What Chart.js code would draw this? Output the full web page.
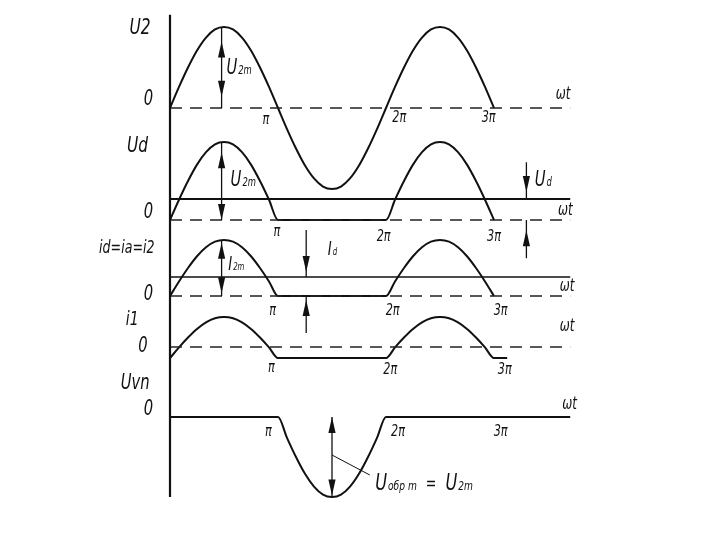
<!DOCTYPE html>
<html><head><meta charset="utf-8">
<script src="https://cdn.jsdelivr.net/npm/chart.js@4/dist/chart.umd.min.js"></script>
<style>html,body{margin:0;padding:0;background:#fff}canvas{display:block}</style>
</head><body>
<canvas id="c" width="720" height="540"></canvas>
<script>
// phase, degrees (180 = π)
const phase = [0,15,30,45,60,75,90,105,120,135,150,165,180,195,210,225,240,255,270,285,300,315,330,345,360,375,390,405,420,435,450,465,480,495,510,525,540];
const tickLabels = ['π','2π','3π'];
const axisEnd = 667;             // where the ωt lines stop
// U2 : secondary voltage (units of U2m)
const u2 = [0,0.26,0.5,0.71,0.87,0.97,1,0.97,0.87,0.71,0.5,0.26,0,-0.26,-0.5,-0.71,-0.87,-0.97,-1,-0.97,-0.87,-0.71,-0.5,-0.26,0,0.26,0.5,0.71,0.87,0.97,1,0.97,0.87,0.71,0.5,0.26,0];
// Ud : rectified voltage (units of U2m)
const ud = [0,0.26,0.5,0.71,0.87,0.97,1,0.97,0.87,0.71,0.5,0.26,0,0,0,0,0,0,0,0,0,0,0,0,0,0.26,0.5,0.71,0.87,0.97,1,0.97,0.87,0.71,0.5,0.26,0];
const udAvg = 0.27;
// id = ia = i2 (units of I2m)
const id = [0,0.26,0.5,0.71,0.87,0.97,1,0.97,0.87,0.71,0.5,0.26,0,0,0,0,0,0,0,0,0,0,0,0,0,0.26,0.5,0.71,0.87,0.97,1,0.97,0.87,0.71,0.5,0.26,0];
const idAvg = 0.34;
// i1 : primary current
const phaseI1 = [...phase, 562];
const i1 = [-0.27,-0.01,0.23,0.44,0.6,0.7,0.73,0.7,0.6,0.44,0.23,-0.01,-0.27,-0.27,-0.27,-0.27,-0.27,-0.27,-0.27,-0.27,-0.27,-0.27,-0.27,-0.27,-0.27,-0.01,0.23,0.44,0.6,0.7,0.73,0.7,0.6,0.44,0.23,-0.01,-0.27,-0.27];
// Uvn : reverse voltage on the diode
const phaseUvn = [...phase, 667];
const uvn = [0,0,0,0,0,0,0,0,0,0,0,0,0,-0.26,-0.5,-0.71,-0.87,-0.97,-1,-0.97,-0.87,-0.71,-0.5,-0.26,0,0,0,0,0,0,0,0,0,0,0,0,0,0];

const H = 540;
function panelAxis(basePx, unitPx){ return {type:'linear', display:false, min:(basePx-H)/unitPx, max:basePx/unitPx}; }
const pts = (xs, ys) => xs.map((x,i)=>({x, y:ys[i]}));
const flat = (v) => [{x:0,y:v},{x:axisEnd,y:v}];

const curve = (data, axis, w) => ({data, yAxisID:axis, borderColor:'#111', borderWidth:w||2, showLine:true, pointRadius:0, cubicInterpolationMode:'monotone', fill:false});
const dashed = (axis) => ({data:flat(0), yAxisID:axis, borderColor:'#222', borderWidth:1.6, borderDash:[12,8], showLine:true, pointRadius:0});
const solid = (v, axis, w) => ({data:flat(v), yAxisID:axis, borderColor:'#111', borderWidth:w, showLine:true, pointRadius:0});

const FONT = '"Liberation Sans Narrow","DejaVu Sans Condensed","Liberation Sans",sans-serif';
const SQUEEZE = 0.78;

const labels = [
  // panel 1
  {t:'U2', x:-50, a:'y1', v:0.99, s:22},
  {t:'0', x:-36, a:'y1', v:0.10, s:21},
  {t:tickLabels[0], x:160, a:'y1', v:-0.15, s:16},
  {t:tickLabels[1], x:382, a:'y1', v:-0.12, s:16},
  {t:tickLabels[2], x:531, a:'y1', v:-0.12, s:16},
  {t:'ωt', x:655, a:'y1', v:0.16, s:17},
  {t:'U', sub:'2m', x:94, a:'y1', v:0.49, s:21, al:'left'},
  // panel 2
  {t:'Ud', x:-54, a:'y2', v:0.94, s:22},
  {t:'0', x:-36, a:'y2', v:0.10, s:21},
  {t:tickLabels[0], x:178, a:'y2', v:-0.15, s:16},
  {t:tickLabels[1], x:356, a:'y2', v:-0.22, s:16},
  {t:tickLabels[2], x:540, a:'y2', v:-0.22, s:16},
  {t:'ωt', x:659, a:'y2', v:0.12, s:17},
  {t:'U', sub:'2m', x:101, a:'y2', v:0.51, s:21, al:'left'},
  {t:'U', sub:'d', x:608, a:'y2', v:0.51, s:21, al:'left'},
  // panel 3
  {t:'id=ia=i2', x:-72, a:'y3', v:0.86, s:18},
  {t:'0', x:-36, a:'y3', v:0.02, s:21},
  {t:'I', sub:'2m', x:97, a:'y3', v:0.55, s:19, al:'left'},
  {t:'I', sub:'d', x:263, a:'y3', v:0.82, s:19, al:'left'},
  {t:tickLabels[0], x:171, a:'y3', v:-0.27, s:16},
  {t:tickLabels[1], x:371, a:'y3', v:-0.27, s:16},
  {t:tickLabels[2], x:551, a:'y3', v:-0.27, s:16},
  {t:'ωt', x:662, a:'y3', v:0.16, s:17},
  // panel 4
  {t:'i1', x:-63, a:'y4', v:0.66, s:20},
  {t:'0', x:-45, a:'y4', v:0.0, s:21},
  {t:tickLabels[0], x:169, a:'y4', v:-0.51, s:16},
  {t:tickLabels[1], x:367, a:'y4', v:-0.56, s:16},
  {t:tickLabels[2], x:558, a:'y4', v:-0.56, s:16},
  {t:'ωt', x:662, a:'y4', v:0.51, s:17},
  // panel 5
  {t:'Uvn', x:-58, a:'y5', v:0.42, s:21},
  {t:'0', x:-36, a:'y5', v:0.09, s:21},
  {t:tickLabels[0], x:164, a:'y5', v:-0.19, s:16},
  {t:tickLabels[1], x:380, a:'y5', v:-0.19, s:16},
  {t:tickLabels[2], x:551, a:'y5', v:-0.19, s:16},
  {t:'ωt', x:666, a:'y5', v:0.15, s:17},
  {t:'U', sub:'обр m', x:342, a:'y5', v:-0.84, s:23, al:'left', tail:'  =  ', t2:'U', sub2:'2m'}
];

// arrows: x, axis, line from v1 to v2, heads [tipValue, dir] dir -1 = pointing up, +1 = down
const arrows = [
  {x:86, a:'y1', v1:1, v2:0, heads:[[0.82,-1],[0.14,1]]},
  {x:86, a:'y2', v1:1, v2:0, heads:[[0.87,-1],[0.0,1]]},
  {x:594, a:'y2', v1:0.74, v2:udAvg, heads:[[0.36,1]]},
  {x:594, a:'y2', v1:0, v2:-0.49, heads:[[-0.13,-1]]},
  {x:86, a:'y3', v1:1, v2:0, heads:[[0.95,-1],[0.05,1]]},
  {x:227, a:'y3', v1:1.18, v2:idAvg, heads:[[0.43,1]]},
  {x:227, a:'y3', v1:0, v2:-0.66, heads:[[-0.07,-1]]},
  {x:270, a:'y5', v1:0, v2:-1, heads:[[0,-1],[-0.98,1]]}
];

function squeezedText(ctx, txt, x, y, align){
  const w = ctx.measureText(txt).width * SQUEEZE;
  let x0 = x;
  if (align === 'center') x0 = x - w/2; else if (align === 'right') x0 = x - w;
  ctx.save(); ctx.translate(x0, y); ctx.scale(SQUEEZE, 1); ctx.textAlign = 'left'; ctx.fillText(txt, 0, 0); ctx.restore();
  return w;
}

const overlay = {
  id:'overlay',
  afterDatasetsDraw(chart){
    const ctx = chart.ctx, X = chart.scales.x;
    const px = v => X.getPixelForValue(v);
    const py = (a,v) => chart.scales[a].getPixelForValue(v);
    ctx.save();
    ctx.strokeStyle = '#111'; ctx.fillStyle = '#111';
    // vertical axis
    ctx.lineWidth = 2.2;
    ctx.beginPath(); ctx.moveTo(px(0), py('y1',1.15)); ctx.lineTo(px(0), py('y5',-1.0)); ctx.stroke();
    // arrows
    ctx.lineWidth = 1.3;
    arrows.forEach(ar => {
      const x = px(ar.x);
      ctx.beginPath(); ctx.moveTo(x, py(ar.a, ar.v1)); ctx.lineTo(x, py(ar.a, ar.v2)); ctx.stroke();
      ar.heads.forEach(([tv, dir]) => {
        const ty = py(ar.a, tv), len = 16, w = 3.6;
        ctx.beginPath(); ctx.moveTo(x, ty); ctx.lineTo(x - w, ty - dir*len); ctx.lineTo(x + w, ty - dir*len); ctx.closePath(); ctx.fill();
      });
    });
    // leader line for U обр m
    ctx.lineWidth = 1;
    ctx.beginPath(); ctx.moveTo(px(270), py('y5',-0.475)); ctx.lineTo(px(333), py('y5',-0.725)); ctx.stroke();
    // labels
    ctx.textBaseline = 'middle';
    labels.forEach(l => {
      let x = px(l.x); const y = py(l.a, l.v);
      const main = `italic ${l.s}px ${FONT}`, small = `italic ${Math.round(l.s*0.55)}px ${FONT}`;
      if (!l.sub) {
        ctx.font = main; squeezedText(ctx, l.t, x, y, l.al || 'center'); return;
      }
      const parts = [[l.t, main, 0], [l.sub, small, l.s*0.12]];
      if (l.tail) { parts.push([l.tail, `italic ${Math.round(l.s*0.8)}px ${FONT}`, 0]); parts.push([l.t2, main, 0]); parts.push([l.sub2, small, l.s*0.12]); }
      parts.forEach(([txt, f, dy]) => { ctx.font = f; x += squeezedText(ctx, txt, x, y + dy, 'left') + 1; });
    });
    ctx.restore();
  }
};

new Chart(document.getElementById('c'), {
  type:'scatter',
  data:{datasets:[
    dashed('y1'), curve(pts(phase,u2),'y1',2),
    dashed('y2'), solid(udAvg,'y2',2), curve(pts(phase,ud),'y2',2),
    dashed('y3'), solid(idAvg,'y3',1.4), curve(pts(phase,id),'y3',2),
    dashed('y4'), curve(pts(phaseI1,i1),'y4',2),
    curve(pts(phaseUvn,uvn),'y5',2)
  ]},
  options:{
    responsive:false, animation:false, events:[],
    layout:{padding:0},
    plugins:{legend:{display:false}, tooltip:{enabled:false}},
    scales:{
      x:{type:'linear', display:false, min:-170/0.6, max:550/0.6},
      y1:panelAxis(108,81), y2:panelAxis(220,78), y3:panelAxis(296,56), y4:panelAxis(347,41), y5:panelAxis(417,80)
    }
  },
  plugins:[overlay]
});
</script>
</body></html>
